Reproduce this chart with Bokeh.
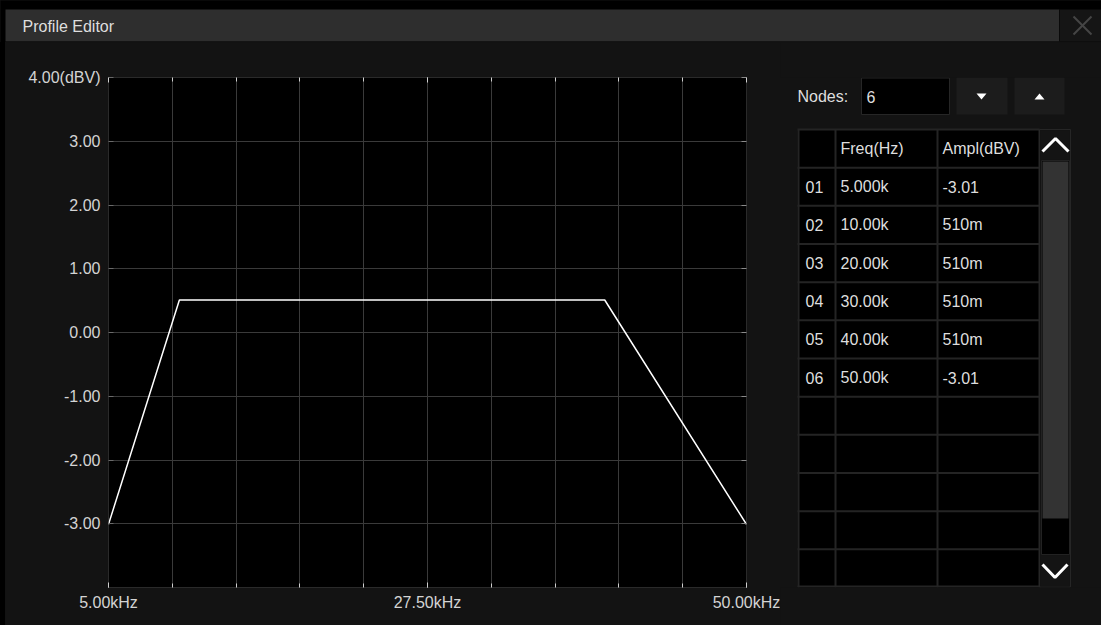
from bokeh.plotting import figure
from bokeh.models import Range1d, FixedTicker, LinearAxis, GlobalInlineStyleSheet, Spacer
from bokeh.layouts import column, row
from bokeh.embed import file_html
from bokeh.resources import INLINE
from bokeh.core.properties import value

FONT = "Liberation Sans"

# ---------------- data ----------------
freq_hz = [5000, 10000, 20000, 30000, 40000, 50000]
ampl_dbv = [-3.01, 0.51, 0.51, 0.51, 0.51, -3.01]
node_ids = ["01", "02", "03", "04", "05", "06"]
freq_labels = ["5.000k", "10.00k", "20.00k", "30.00k", "40.00k", "50.00k"]
ampl_labels = ["-3.01", "510m", "510m", "510m", "510m", "-3.01"]
header_labels = ["Freq(Hz)", "Ampl(dBV)"]
node_count = "6"
table_rows = 11

y_ticks = [-3, -2, -1, 0, 1, 2, 3, 4]
y_tick_labels = ["-3.00", "-2.00", "-1.00", "0.00", "1.00", "2.00", "3.00", "4.00(dBV)"]
x_ticks = [5000, 27500, 50000]
x_tick_labels = ["5.00kHz", "27.50kHz", "50.00kHz"]
x_grid = [5000, 9500, 14000, 18500, 23000, 27500, 32000, 36500, 41000, 45500, 50000]

TXT = "#dedede"
BG = "#131313"


def Y(v):
    # screen rows (downwards) -> upward data axis of the chrome panels
    if isinstance(v, (list, tuple)):
        return [-a for a in v]
    return -v


# ---------------- title bar ----------------
top = figure(title=None, width=1101, height=42, x_range=Range1d(0, 1101), y_range=Range1d(-42, 0),
             output_backend="svg", toolbar_location=None, min_border=0,
             x_axis_type=None, y_axis_type=None, outline_line_color=None,
             background_fill_color="#000000", border_fill_color="#000000")
top.quad(left=[5], right=[1059], top=[Y(9)], bottom=[Y(41)], fill_color="#2e2e2e", line_color=None)
top.quad(left=[1059], right=[1101], top=[Y(9)], bottom=[Y(41)], fill_color="#151515", line_color="#0a0a0a")
top.quad(left=[5], right=[1101], top=[Y(41)], bottom=[Y(42)], fill_color=BG, line_color=None)
top.multi_line(xs=[[1073, 1091], [1091, 1073]], ys=[Y([16, 34]), Y([16, 34])], line_color="#454545", line_width=2)
top.text(x=[22], y=[Y(26)], text=["Profile Editor"], text_font=value(FONT), text_font_size="16px",
         text_color=TXT, text_baseline="middle", text_align="left")

# ---------------- chart ----------------
chart = figure(title=None, width=775, height=583, x_range=Range1d(5000, 50000), y_range=Range1d(-4, 4),
               output_backend="svg", toolbar_location=None,
               min_border_left=103, min_border_right=34, min_border_top=35, min_border_bottom=38,
               background_fill_color="#000000", border_fill_color=BG,
               outline_line_color="#2a2a2a")
chart.add_layout(LinearAxis(), "above")
chart.add_layout(LinearAxis(), "right")


def style_axis(ax, ticks, labels, minor, color, show, standoff):
    ax.ticker = FixedTicker(ticks=ticks, minor_ticks=minor)
    ax.major_label_overrides = {t: (l if show else "") for t, l in zip(ticks, labels)}
    ax.axis_line_color = None
    ax.major_tick_in = 5
    ax.major_tick_out = 0
    ax.minor_tick_in = 4
    ax.minor_tick_out = 0
    ax.major_tick_line_color = color
    ax.minor_tick_line_color = color
    ax.major_label_text_font = FONT
    ax.major_label_text_font_size = "16px" if show else "0px"
    ax.major_label_text_color = "#d4d4d4"
    ax.major_label_standoff = standoff


style_axis(chart.below[0], x_ticks, x_tick_labels, x_grid, "#cfcfcf", True, 6)
style_axis(chart.above[0], x_ticks, x_tick_labels, x_grid, "#cfcfcf", False, 0)
style_axis(chart.left[0], y_ticks, y_tick_labels, [], "#6a6a6a", True, 8)
style_axis(chart.right[0], y_ticks, y_tick_labels, [], "#8a8a8a", False, 0)

chart.xgrid.ticker = FixedTicker(ticks=x_grid)
chart.ygrid.ticker = FixedTicker(ticks=y_ticks)
chart.grid.grid_line_color = "#3a3a3a"
chart.grid.grid_line_width = 1

chart.line(freq_hz, ampl_dbv, line_color="#ffffff", line_width=1.5)

# ---------------- node table (frame aligned with the chart frame: rows 77..587) ----------------
tbl = figure(title=None, width=321, height=583, x_range=Range1d(780, 1101),
             y_range=Range1d(-587, -77),
             output_backend="svg", toolbar_location=None,
             min_border_left=0, min_border_right=0, min_border_top=35, min_border_bottom=38,
             x_axis_type=None, y_axis_type=None, outline_line_color=None,
             background_fill_color=None, border_fill_color=BG)

tkw = dict(text_font=value(FONT), text_font_size="16px", text_color=TXT,
           text_baseline="middle", text_align="left")

tbl.text(x=[797], y=[Y(96)], text=["Nodes:"], **tkw)
tbl.quad(left=[861], right=[949], top=[Y(77.5)], bottom=[Y(114)], fill_color="#000000", line_color="#262626")
tbl.text(x=[866], y=[Y(96)], text=[node_count], **tkw)
tbl.quad(left=[956, 1014], right=[1007, 1064], top=Y([77, 77]), bottom=Y([114, 114]),
         fill_color="#1c1c1c", line_color=None)
tbl.patches(xs=[[976, 986, 981], [1034, 1044, 1039]], ys=[Y([93, 93, 99]), Y([99, 99, 93])],
            fill_color="#ffffff", line_color=None)

t_left, t_c1, t_c2, t_right = 797, 835, 937, 1039
t_top, t_bot = 129, 587
n_lines = table_rows + 1
row_h = (t_bot - t_top) / n_lines
tbl.quad(left=[t_left], right=[t_right], top=[Y(t_top)], bottom=[Y(t_bot)], fill_color="#000000", line_color=None)
hy = Y([t_top + k * row_h for k in range(n_lines)] + [t_bot - 1])
tbl.segment(x0=[t_left] * len(hy), x1=[t_right] * len(hy), y0=hy, y1=hy, line_color="#242424", line_width=2)
vx = [t_left + 1, t_c1, t_c2, t_right]
tbl.segment(x0=vx, x1=vx, y0=[Y(t_top)] * 4, y1=[Y(t_bot)] * 4, line_color="#242424", line_width=2)

head_y = Y(t_top + row_h / 2)
tbl.text(x=[t_c1 + 5, t_c2 + 5], y=[head_y, head_y], text=header_labels, **tkw)
row_y = Y([t_top + (i + 1.5) * row_h for i in range(len(node_ids))])
tbl.text(x=[t_left + 8] * len(node_ids), y=row_y, text=node_ids, **tkw)
tbl.text(x=[t_c1 + 5] * len(node_ids), y=row_y, text=freq_labels, **tkw)
tbl.text(x=[t_c2 + 5] * len(node_ids), y=row_y, text=ampl_labels, **tkw)

# scrollbar
tbl.quad(left=[1039], right=[1070], top=[Y(129)], bottom=[Y(586.5)], fill_color=BG, line_color="#262626")
tbl.quad(left=[1040], right=[1069], top=[Y(130)], bottom=[Y(159)], fill_color="#141414", line_color=None)
tbl.quad(left=[1041], right=[1069], top=[Y(160)], bottom=[Y(554)], fill_color="#000000", line_color="#222222")
tbl.quad(left=[1042], right=[1068], top=[Y(161)], bottom=[Y(518)], fill_color="#333333", line_color=None)
tbl.quad(left=[1040], right=[1069], top=[Y(555)], bottom=[Y(586)], fill_color="#141414", line_color=None)
tbl.multi_line(xs=[[1042, 1055, 1068], [1042, 1054.5, 1067]], ys=[Y([151, 138, 151]), Y([564, 577, 564])],
               line_color="#ffffff", line_width=3)

layout = column(top, row(Spacer(width=5, height=583, styles={"background-color": "#000000"}), chart, tbl))
layout.stylesheets = [GlobalInlineStyleSheet(css="html,body{background:#131313;margin:0;padding:0;}")]

open("out.html", "w").write(file_html(layout, INLINE))
